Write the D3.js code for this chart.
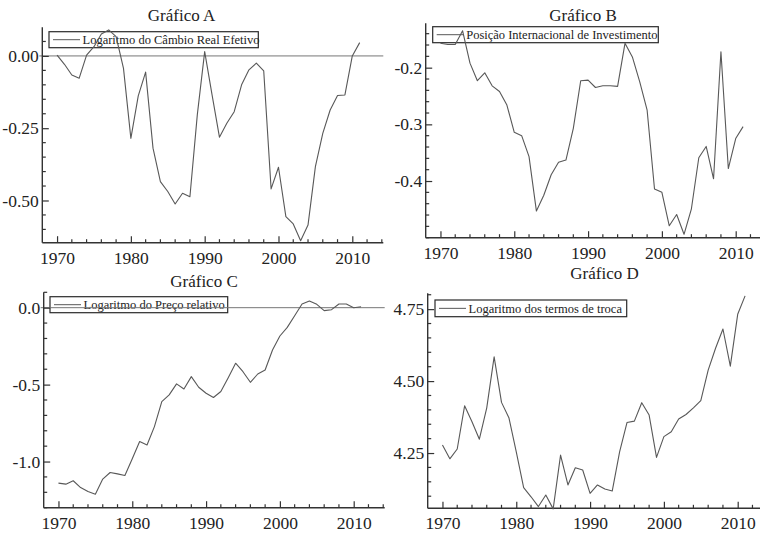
<!DOCTYPE html>
<html>
<head>
<meta charset="utf-8">
<script src="https://cdn.jsdelivr.net/npm/d3@7/dist/d3.min.js"></script>
<style>
  body { margin: 0; background: #fff; }
  svg { display: block; }
  text { font-family: "Liberation Serif", "Times New Roman", serif; fill: #222; }
</style>
</head>
<body>
<svg id="chart" width="760" height="533"></svg>
<script>
// Anos da amostra
const years = [1970,1971,1972,1973,1974,1975,1976,1977,1978,1979,
               1980,1981,1982,1983,1984,1985,1986,1987,1988,1989,
               1990,1991,1992,1993,1994,1995,1996,1997,1998,1999,
               2000,2001,2002,2003,2004,2005,2006,2007,2008,2009,
               2010,2011];

// Gráfico A: logaritmo do câmbio real efetivo
const cambioReal = [0.003,-0.029,-0.066,-0.077,0.003,0.032,0.076,0.090,0.067,-0.043,
                    -0.285,-0.138,-0.056,-0.319,-0.435,-0.469,-0.512,-0.475,-0.487,-0.204,
                    0.015,-0.135,-0.281,-0.233,-0.193,-0.100,-0.048,-0.025,-0.052,-0.460,
                    -0.385,-0.556,-0.581,-0.639,-0.585,-0.383,-0.268,-0.187,-0.137,-0.135,
                    0.000,0.046];

// Gráfico B: posição internacional de investimento
const posicaoInvest = [-0.157,-0.159,-0.159,-0.135,-0.192,-0.223,-0.209,-0.232,-0.242,-0.266,
                       -0.314,-0.320,-0.357,-0.453,-0.425,-0.389,-0.367,-0.363,-0.307,-0.223,
                       -0.222,-0.235,-0.232,-0.232,-0.233,-0.157,-0.181,-0.225,-0.275,-0.414,
                       -0.420,-0.479,-0.459,-0.494,-0.449,-0.359,-0.339,-0.396,-0.172,-0.378,
                       -0.325,-0.304];

// Gráfico C: logaritmo do preço relativo
const precoRelativo = [-1.140,-1.147,-1.125,-1.169,-1.195,-1.212,-1.114,-1.071,-1.080,-1.091,
                       -0.982,-0.870,-0.892,-0.773,-0.610,-0.567,-0.495,-0.528,-0.448,-0.517,
                       -0.556,-0.584,-0.545,-0.455,-0.361,-0.416,-0.485,-0.431,-0.405,-0.275,
                       -0.184,-0.128,-0.052,0.024,0.043,0.022,-0.019,-0.013,0.024,0.024,
                       0.000,0.006];

// Gráfico D: logaritmo dos termos de troca
const termosTroca = [4.278,4.230,4.264,4.414,4.359,4.298,4.407,4.584,4.426,4.373,
                     4.254,4.130,4.098,4.064,4.104,4.056,4.243,4.139,4.199,4.191,
                     4.110,4.139,4.125,4.118,4.254,4.356,4.361,4.425,4.382,4.235,
                     4.307,4.324,4.368,4.384,4.407,4.432,4.538,4.614,4.681,4.552,
                     4.732,4.796];

// Rótulos dos eixos
const xTickYears = [1970, 1980, 1990, 2000, 2010];
const yTicksA = [0, -0.25, -0.5];
const yTicksB = [-0.2, -0.3, -0.4];
const yTicksC = [0, -0.5, -1.0];
const yTicksD = [4.25, 4.5, 4.75];

const titles = ["Gráfico A", "Gráfico B", "Gráfico C", "Gráfico D"];
const legendLabels = ["Logaritmo do Câmbio Real Efetivo",
                      "Posição Internacional de Investimento",
                      "Logaritmo do Preço relativo",
                      "Logaritmo dos termos de troca"];

// Formato com hífen simples como sinal negativo
const fmtWith = spec => { const f = d3.format(spec); return v => f(v).replace("\u2212", "-"); };

// Layout de cada painel
const panels = [
  { values: cambioReal, title: titles[0], label: legendLabels[0],
    yDomain: [-0.646, 0.099], yTicks: yTicksA, fmt: fmtWith(".2f"), minorStep: 0.05,
    left: 42.3, top: 27.3, bottom: 242.7, zeroLine: true,
    titleX: 181.6, titleY: 20.7,
    legend: { x: 49, y: 31.7, w: 209.3, h: 16 } },
  { values: posicaoInvest, title: titles[1], label: legendLabels[1],
    yDomain: [-0.5, -0.1217], yTicks: yTicksB, fmt: fmtWith(".1f"), minorStep: 0.02,
    left: 425.7, top: 23.3, bottom: 237.7, zeroLine: false,
    titleX: 583, titleY: 21.2,
    legend: { x: 432.7, y: 26.7, w: 225.6, h: 16 } },
  { values: precoRelativo, title: titles[2], label: legendLabels[2],
    yDomain: [-1.3, 0.1], yTicks: yTicksC, fmt: fmtWith(".1f"), minorStep: 0.1,
    left: 43.7, top: 292.3, bottom: 507.7, zeroLine: true,
    titleX: 204, titleY: 286.6,
    legend: { x: 50, y: 296.7, w: 177.7, h: 16 } },
  { values: termosTroca, title: titles[3], label: legendLabels[3],
    yDomain: [4.058, 4.805], yTicks: yTicksD, fmt: fmtWith(".2f"), minorStep: 0.05,
    left: 427.7, top: 293.3, bottom: 508.3, zeroLine: false,
    titleX: 604.5, titleY: 279.2,
    legend: { x: 435, y: 300, w: 191.7, h: 16.7 } }
];

const xDomain = [1968, 2014.2];
const plotWidth = 341;
const axisColor = "#333";
const lineColor = "#585858";

const svg = d3.select("#chart");
svg.append("rect").attr("width", 760).attr("height", 533).attr("fill", "#fff");

panels.forEach(p => {
  const right = p.left + plotWidth;
  const x = d3.scaleLinear().domain(xDomain).range([p.left, right]);
  const y = d3.scaleLinear().domain(p.yDomain).range([p.bottom, p.top]);
  const g = svg.append("g");

  // Título
  g.append("text")
    .attr("x", p.titleX).attr("y", p.titleY)
    .attr("text-anchor", "middle")
    .style("font-size", "17px")
    .text(p.title);

  // Legenda (desenhada antes da série, que passa por cima)
  const L = p.legend;
  g.append("rect")
    .attr("x", L.x).attr("y", L.y).attr("width", L.w).attr("height", L.h)
    .attr("fill", "none").attr("stroke", "#2a2a2a").attr("stroke-width", 1.2);
  const ly = L.y + L.h / 2;
  g.append("line")
    .attr("x1", L.x + 4).attr("x2", L.x + 31)
    .attr("y1", ly).attr("y2", ly)
    .attr("stroke", lineColor).attr("stroke-width", 1);
  g.append("text")
    .attr("x", L.x + 33.5).attr("y", L.y + L.h - 3.6)
    .style("font-size", "12.5px")
    .text(p.label);

  // Linha de referência em zero
  if (p.zeroLine) {
    g.append("line")
      .attr("x1", p.left - 3).attr("x2", right)
      .attr("y1", y(0)).attr("y2", y(0))
      .attr("stroke", "#777").attr("stroke-width", 1);
  }

  // Eixo X
  const xAxis = d3.axisBottom(x)
    .tickValues(xTickYears).tickFormat(d3.format("d"))
    .tickSizeInner(-6.5).tickSizeOuter(0).tickPadding(8.5);
  const gx = g.append("g").attr("transform", `translate(0,${p.bottom})`).call(xAxis);
  const minorYears = d3.range(1970, 2015, 2).filter(v => v % 10 !== 0);
  gx.selectAll(".minor").data(minorYears).join("line")
    .attr("class", "minor")
    .attr("x1", d => x(d)).attr("x2", d => x(d))
    .attr("y1", 0).attr("y2", -3.5);

  // Eixo Y
  const yAxis = d3.axisLeft(y)
    .tickValues(p.yTicks).tickFormat(p.fmt)
    .tickSizeInner(-6.5).tickSizeOuter(0).tickPadding(3.5);
  const gy = g.append("g").attr("transform", `translate(${p.left},0)`).call(yAxis);
  const n0 = Math.ceil(p.yDomain[0] / p.minorStep - 1e-6);
  const n1 = Math.floor(p.yDomain[1] / p.minorStep + 1e-6);
  const minorY = d3.range(n0, n1 + 1).map(k => +(k * p.minorStep).toFixed(4))
    .filter(v => !p.yTicks.some(t => Math.abs(t - v) < 1e-6));
  gy.selectAll(".minor").data(minorY).join("line")
    .attr("class", "minor")
    .attr("x1", 0).attr("x2", 3.5)
    .attr("y1", d => y(d)).attr("y2", d => y(d));

  [gx, gy].forEach(ax => {
    ax.attr("font-family", null).attr("font-size", null);
    ax.select(".domain").attr("stroke", axisColor).attr("stroke-width", 1.4);
    ax.selectAll("line").attr("stroke", axisColor).attr("stroke-width", 1.2);
    ax.selectAll("text")
      .style("font-size", "17.5px").attr("fill", "#222");
  });
  gx.select(".domain").attr("d", `M${p.left},0H${right}`);
  gy.select(".domain").attr("d", `M0,${p.top}V${p.bottom}`);

  // Série
  const line = d3.line().x((d, i) => x(years[i])).y(d => y(d));
  g.append("path")
    .datum(p.values)
    .attr("d", line)
    .attr("fill", "none")
    .attr("stroke", lineColor)
    .attr("stroke-width", 1.1)
    .attr("stroke-linejoin", "round");
});
</script>
</body>
</html>
